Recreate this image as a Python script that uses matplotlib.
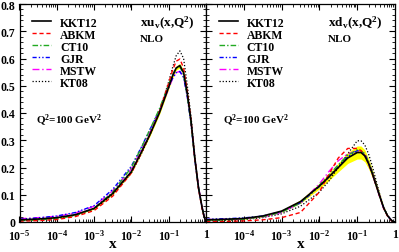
import numpy as np
import matplotlib
matplotlib.use("Agg")
import matplotlib.pyplot as plt
from matplotlib.ticker import FixedLocator, NullFormatter, MultipleLocator, FuncFormatter

plt.rcParams['font.family'] = ['Liberation Serif', 'DejaVu Serif']
plt.rcParams['font.weight'] = 'bold'
plt.rcParams['mathtext.fontset'] = 'custom'
plt.rcParams['mathtext.rm'] = 'Liberation Serif:bold'
plt.rcParams['mathtext.it'] = 'Liberation Serif:bold'
plt.rcParams['mathtext.bf'] = 'Liberation Serif:bold'

# log10(x) grid where the curves were read
logx = [-5, -4.5, -4, -3.5, -3, -2.5, -2, -1.75, -1.5, -1.25, -1, -0.9, -0.8,
        -0.7, -0.6, -0.5, -0.4, -0.3, -0.2, -0.1, -0.05, 0]

# xu_v(x, Q^2=100)
u_kkt12 = [0.008, 0.011, 0.016, 0.027, 0.050, 0.105, 0.185, 0.252, 0.322, 0.400, 0.495, 0.535, 0.565,
           0.574, 0.548, 0.470, 0.370, 0.235, 0.125, 0.050, 0.020, 0]
u_err = [0.002, 0.002, 0.002, 0.002, 0.003, 0.004, 0.005, 0.005, 0.006, 0.006, 0.007, 0.008, 0.008,
         0.008, 0.008, 0.007, 0.006, 0.005, 0.004, 0.003, 0.002, 0]
u_abkm = [0.003, 0.005, 0.009, 0.020, 0.042, 0.095, 0.180, 0.248, 0.322, 0.405, 0.510, 0.555, 0.590,
          0.598, 0.565, 0.480, 0.370, 0.230, 0.120, 0.045, 0.018, 0]
u_ct10 = [0.005, 0.008, 0.012, 0.024, 0.050, 0.110, 0.200, 0.268, 0.340, 0.415, 0.505, 0.540, 0.565,
          0.570, 0.540, 0.460, 0.360, 0.230, 0.125, 0.050, 0.020, 0]
u_gjr = [0.010, 0.015, 0.022, 0.035, 0.060, 0.120, 0.205, 0.270, 0.340, 0.410, 0.495, 0.527, 0.548,
         0.552, 0.530, 0.458, 0.360, 0.230, 0.125, 0.050, 0.020, 0]
u_mstw = [0.012, 0.016, 0.021, 0.033, 0.058, 0.115, 0.195, 0.260, 0.330, 0.405, 0.490, 0.525, 0.548,
          0.553, 0.532, 0.460, 0.365, 0.235, 0.128, 0.052, 0.020, 0]
u_kt08 = [0.006, 0.009, 0.014, 0.025, 0.048, 0.100, 0.180, 0.245, 0.320, 0.405, 0.515, 0.565, 0.610,
          0.628, 0.600, 0.500, 0.385, 0.240, 0.125, 0.048, 0.018, 0]

# xd_v(x, Q^2=100)
d_kkt12 = [0.008, 0.010, 0.013, 0.022, 0.040, 0.075, 0.132, 0.165, 0.200, 0.235, 0.255, 0.255, 0.243,
           0.215, 0.178, 0.135, 0.093, 0.052, 0.024, 0.007, 0.002, 0]
d_err = [0.002, 0.002, 0.003, 0.003, 0.004, 0.006, 0.010, 0.013, 0.016, 0.020, 0.024, 0.024, 0.022,
         0.019, 0.016, 0.012, 0.009, 0.006, 0.003, 0.001, 0.001, 0]
d_abkm = [0.001, 0.002, 0.004, 0.008, 0.016, 0.035, 0.110, 0.175, 0.235, 0.270, 0.270, 0.262, 0.245,
          0.215, 0.178, 0.135, 0.092, 0.050, 0.022, 0.006, 0.002, 0]
d_ct10 = [0.006, 0.008, 0.011, 0.019, 0.036, 0.070, 0.135, 0.172, 0.210, 0.245, 0.265, 0.262, 0.248,
          0.218, 0.180, 0.136, 0.092, 0.052, 0.023, 0.007, 0.002, 0]
d_gjr = [0.010, 0.012, 0.015, 0.022, 0.038, 0.070, 0.130, 0.165, 0.203, 0.240, 0.262, 0.262, 0.250,
         0.222, 0.183, 0.138, 0.094, 0.053, 0.024, 0.007, 0.002, 0]
d_mstw = [0.009, 0.010, 0.012, 0.018, 0.035, 0.070, 0.140, 0.185, 0.225, 0.250, 0.262, 0.258, 0.243,
          0.213, 0.176, 0.133, 0.090, 0.050, 0.023, 0.007, 0.002, 0]
d_kt08 = [0.004, 0.006, 0.009, 0.016, 0.030, 0.058, 0.110, 0.150, 0.200, 0.250, 0.298, 0.298, 0.283,
          0.250, 0.205, 0.152, 0.100, 0.055, 0.024, 0.007, 0.002, 0]

labels = ["KKT12", "ABKM", "CT10", "GJR", "MSTW", "KT08"]
colors = ["black", "red", "#22aa22", "blue", "magenta", "black"]
styles = ["-", (0, (3, 2)), (0, (4, 1.5, 1, 1.5)), (0, (3, 1.5, 1, 1.5, 1, 1.5)),
          (0, (5, 2, 1, 2)), (0, (1, 1.5))]
widths = [1.2, 1.0, 1.0, 1.0, 1.0, 0.9]

x = 10.0 ** np.array(logx)

fig = plt.figure(figsize=(3.99, 2.53), dpi=100)
W, H = 399, 253
ax1 = fig.add_axes([19.5 / W, 1 - 223 / H, (206 - 19.5) / W, (223 - 5) / H])
ax2 = fig.add_axes([206 / W, 1 - 223 / H, (395 - 206) / W, (223 - 5) / H])

panels = [
    (ax1, [u_kkt12, u_abkm, u_ct10, u_gjr, u_mstw, u_kt08], u_err, r"xu$_v$(x,Q$^2$)"),
    (ax2, [d_kkt12, d_abkm, d_ct10, d_gjr, d_mstw, d_kt08], d_err, r"xd$_v$(x,Q$^2$)"),
]

for ax, curves, err, title in panels:
    c0 = np.array(curves[0])
    e = np.array(err)
    ax.fill_between(x, c0 - e, c0 + e, color="#ffff00", lw=0, zorder=1)
    for k in range(len(curves) - 1, -1, -1):
        ax.plot(x, curves[k], color=colors[k], ls=styles[k], lw=widths[k],
                label=labels[k], zorder=3 if k == 0 else 2)
    ax.set_xscale("log")
    ax.set_xlim(1e-5, 1)
    ax.set_ylim(0, 0.8)
    ax.yaxis.set_major_locator(FixedLocator([0, 0.1, 0.2, 0.3, 0.4, 0.5, 0.6, 0.7, 0.8]))
    ax.yaxis.set_minor_locator(MultipleLocator(0.02))
    ax.yaxis.set_major_formatter(FuncFormatter(lambda v, p: "0" if abs(v) < 1e-9 else f"{v:.1f}"))
    ax.xaxis.set_major_locator(FixedLocator([1e-5, 1e-4, 1e-3, 1e-2, 1e-1, 1]))
    ax.xaxis.set_minor_locator(FixedLocator([m * 10.0 ** p for p in range(-5, 0) for m in range(2, 10)]))
    ax.xaxis.set_minor_formatter(NullFormatter())
    ax.tick_params(which="both", direction="in", top=True, right=True, labelsize=8.5)
    ax.tick_params(axis="x", pad=4.5)
    ax.tick_params(axis="y", pad=3)
    ax.tick_params(which="major", length=4.5, width=0.8)
    ax.tick_params(which="minor", length=2.2, width=0.6)
    for s in ax.spines.values():
        s.set_linewidth(0.9)
    ax.set_xlabel("x", fontsize=11, fontweight="bold", labelpad=-4.5)

    h, l = ax.get_legend_handles_labels()
    order = [l.index(n) for n in labels]
    ax.legend([h[i] for i in order], labels, loc="upper left", bbox_to_anchor=(0.03, 0.975),
              frameon=False, fontsize=8.5, handlelength=1.6, handletextpad=0.75,
              labelspacing=0.0, borderaxespad=0.2)

    ax.text(0.645, 0.915, title, transform=ax.transAxes, fontsize=9.5, ha="left", va="center")
    ax.text(0.645, 0.84, "NLO", transform=ax.transAxes, fontsize=8, ha="left", va="center")
    ax.text(0.09, 0.47, r"Q$^2$=100 GeV$^2$", transform=ax.transAxes, fontsize=8,
            ha="left", va="center")

ax1.set_xticklabels([r"$10^{-5}$", r"$10^{-4}$", r"$10^{-3}$", r"$10^{-2}$", r"$10^{-1}$", "1"])
ax2.set_xticklabels(["", r"$10^{-4}$", r"$10^{-3}$", r"$10^{-2}$", r"$10^{-1}$", "1"])
ax2.tick_params(labelleft=False)

fig.savefig("out.png", dpi=100)
